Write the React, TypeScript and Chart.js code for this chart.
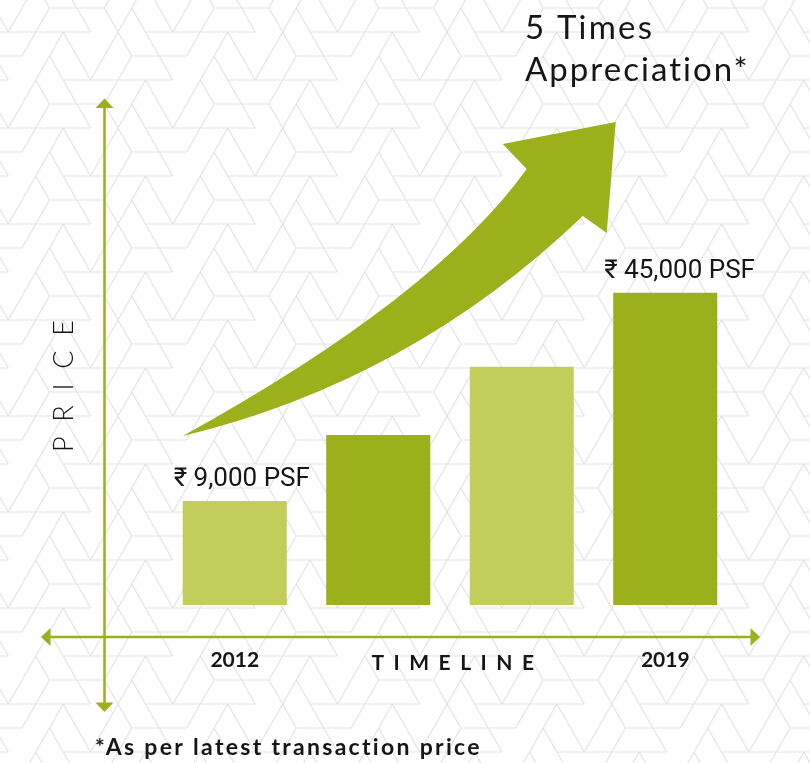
import React, { useEffect, useRef } from 'react';
import { Chart, registerables } from 'chart.js';

Chart.register(...registerables);

// ---- data ----
const categories = ['2012', '', '', '2019'];
const prices = [9000, 20400, 32200, 45000];
const priceLabels = ['₹ 9,000 PSF', '', '', '₹ 45,000 PSF'];
const barColors = ['#c3cd59', '#9cb01b', '#c3cd59', '#9cb01b'];
const axisBase = -9000;
const axisTop = 60000;
const titleLines = ['5 Times', 'Appreciation*'];
const xTitle = 'TIMELINE';
const yTitle = 'PRICE';
const footnote = '*As per latest transaction price';

const GREEN = '#9cb01b';
const INK = '#161616';

// background tessellation (one period: 12 half-cells wide, 4 rows tall)
const H_SEG = [[3, 7], [10, 18], [9, 13], [4, 12]];
const BACK = [[5, 7, 9, 11], [4, 8, 10], [3, 5, 11], [2, 4, 10]];
const FWD = [[1, 3, 9], [2, 4, 8], [3, 7, 9], [2, 8, 10]];

function fitText(ctx: CanvasRenderingContext2D, text: string, x: number, y: number, target: number) {
  const c: any = ctx;
  c.letterSpacing = '0px';
  const w = ctx.measureText(text).width;
  const n = [...text].length;
  const sp = n > 1 ? (target - w) / (n - 1) : 0;
  c.letterSpacing = sp.toFixed(2) + 'px';
  ctx.textAlign = 'left';
  ctx.fillText(text, x, y);
  c.letterSpacing = '0px';
}

const patternPlugin = {
  id: 'bgPattern',
  beforeDraw(chart: any) {
    const { ctx, width, height } = chart;
    ctx.save();
    ctx.fillStyle = '#ffffff';
    ctx.fillRect(0, 0, width, height);
    ctx.strokeStyle = '#e3e3e3';
    ctx.lineWidth = 1.2;
    ctx.beginPath();
    const S = 13.715, X0 = 8.3, Y0 = 8, H = 24;
    const X = (m: number) => X0 + S * m;
    for (let k = -1; k <= 33; k++) {
      const r = ((k % 4) + 4) % 4;
      const y = Y0 + H * k;
      for (let p = -1; p <= 5; p++) {
        const b = 12 * p;
        const [a, e] = H_SEG[r];
        ctx.moveTo(X(b + a), y);
        ctx.lineTo(X(b + e), y);
        for (const m of BACK[r]) {
          ctx.moveTo(X(b + m), y);
          ctx.lineTo(X(b + m + 1), y + H);
        }
        for (const m of FWD[r]) {
          ctx.moveTo(X(b + m), y);
          ctx.lineTo(X(b + m - 1), y + H);
        }
      }
    }
    ctx.stroke();
    ctx.restore();
  },
};

const decorPlugin = {
  id: 'decor',
  afterDraw(chart: any) {
    const { ctx, chartArea: ca } = chart;
    const bars = chart.getDatasetMeta(0).data;
    ctx.save();

    // axes with arrowheads
    const ax = ca.left - 58.5;
    const ay = ca.bottom + 32;
    ctx.strokeStyle = GREEN;
    ctx.fillStyle = GREEN;
    ctx.lineWidth = 2.5;
    ctx.beginPath();
    ctx.moveTo(ax, ca.top - 100);
    ctx.lineTo(ax, ca.bottom + 100);
    ctx.moveTo(ca.left - 115, ay);
    ctx.lineTo(ca.right + 16, ay);
    ctx.stroke();
    const tri = (p: number[][]) => {
      ctx.beginPath();
      ctx.moveTo(p[0][0], p[0][1]);
      ctx.lineTo(p[1][0], p[1][1]);
      ctx.lineTo(p[2][0], p[2][1]);
      ctx.closePath();
      ctx.fill();
    };
    const upTip = ca.top - 107.5;
    tri([[ax, upTip], [ax - 9, upTip + 9.5], [ax + 9, upTip + 9.5]]);
    const dnTip = ca.bottom + 107;
    tri([[ax, dnTip], [ax - 9, dnTip - 9.5], [ax + 9, dnTip - 9.5]]);
    const lTip = ca.left - 122;
    tri([[lTip, ay], [lTip + 9.5, ay - 9], [lTip + 9.5, ay + 9]]);
    const rTip = ca.right + 23;
    tri([[rTip, ay], [rTip - 9.5, ay - 9], [rTip - 9.5, ay + 9]]);

    // big curved arrow
    const tx = bars[0].x - bars[0].width / 2;
    const ty = bars[1].y + 1;
    const P = (dx: number, dy: number) => [tx + dx, ty + dy];
    ctx.fillStyle = GREEN;
    ctx.beginPath();
    ctx.moveTo(tx, ty);
    let c = P(252, -139), e = P(344, -267);
    ctx.quadraticCurveTo(c[0], c[1], e[0], e[1]);
    for (const q of [P(320, -292), P(433, -314), P(424, -203), P(400, -220)]) ctx.lineTo(q[0], q[1]);
    c = P(228, -55);
    ctx.quadraticCurveTo(c[0], c[1], tx, ty);
    ctx.closePath();
    ctx.fill();

    // value labels
    ctx.fillStyle = INK;
    ctx.textBaseline = 'alphabetic';
    ctx.font = '400 26px Roboto, "Noto Sans", sans-serif';
    bars.forEach((bar: any, i: number) => {
      if (!priceLabels[i]) return;
      ctx.textAlign = 'left';
      ctx.fillText(priceLabels[i], bar.x - bar.width / 2 - 9, bar.y - 15);
    });

    // title
    ctx.font = '400 33px Lato, "Open Sans", sans-serif';
    fitText(ctx, titleLines[0], 525, 39, 127);
    fitText(ctx, titleLines[1], 525, 81, 223);

    // x title
    ctx.font = '700 21px Lato, sans-serif';
    fitText(ctx, xTitle, 371.5, ca.bottom + 65, 162.5);

    // y title (rotated)
    ctx.save();
    ctx.translate(72.7, 386);
    ctx.rotate(-Math.PI / 2);
    ctx.font = '300 27px Lato, sans-serif';
    fitText(ctx, yTitle, -66, 0, 132);
    ctx.restore();

    // footnote
    ctx.font = '700 23px Lato, sans-serif';
    fitText(ctx, footnote, 95, 755, 385);

    ctx.restore();
  },
};

export default function App() {
  const ref = useRef<HTMLCanvasElement | null>(null);
  useEffect(() => {
    if (!ref.current) return;
    const chart = new Chart(ref.current, {
      type: 'bar',
      data: {
        labels: categories,
        datasets: [
          {
            data: prices,
            backgroundColor: barColors,
            borderWidth: 0,
            base: axisBase,
            barPercentage: 0.725,
            categoryPercentage: 1,
          } as any,
        ],
      },
      options: {
        responsive: false,
        animation: false,
        devicePixelRatio: 1,
        layout: { padding: { left: 163, right: 73, top: 206, bottom: 78 } },
        plugins: { legend: { display: false }, tooltip: { enabled: false } },
        scales: {
          x: {
            grid: { display: false, drawTicks: false },
            border: { display: false },
            ticks: {
              color: INK,
              padding: 43,
              font: { family: 'Lato, sans-serif', size: 21, weight: 'bold' },
            },
            afterFit: (s: any) => {
              s.height = 80;
            },
          },
          y: {
            display: false,
            min: axisBase,
            max: axisTop,
          },
        },
      },
      plugins: [patternPlugin, decorPlugin],
    } as any);
    return () => chart.destroy();
  }, []);
  return (
    <div style={{ position: 'fixed', left: 0, top: 0, width: 810, height: 763 }}>
      <canvas ref={ref} width={810} height={763} />
    </div>
  );
}
